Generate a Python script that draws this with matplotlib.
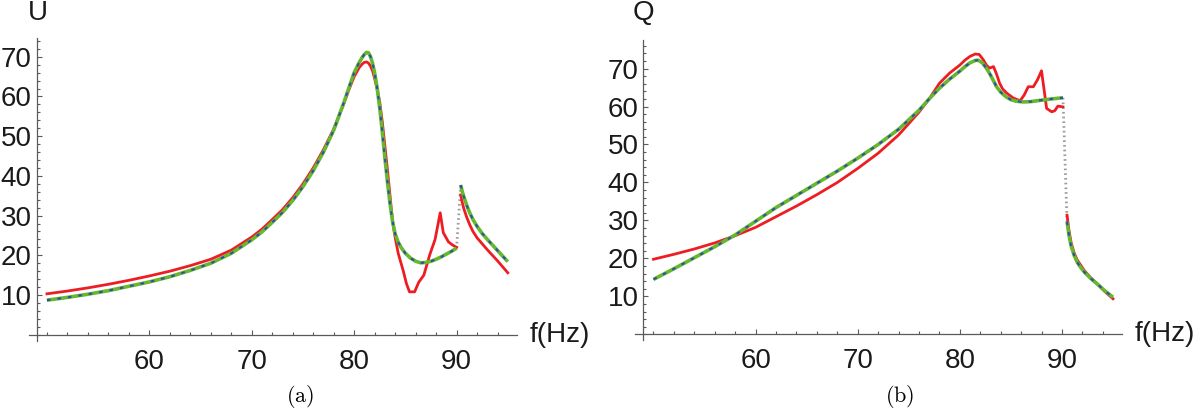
import matplotlib
matplotlib.use("Agg")
import matplotlib.pyplot as plt
from matplotlib.ticker import MultipleLocator

# panel (a): U versus f, model (green / blue dashed) and measured (red)
u_model_f1 = [50, 52, 54, 56, 58, 60, 62, 64, 66, 68, 70, 71, 72, 73, 74, 75, 76, 77, 78, 79,
              79.5, 80, 80.5, 80.8, 81.0, 81.2, 81.4, 81.6, 81.8, 82.0, 82.25, 82.5, 82.75, 83.0,
              83.25, 83.5, 83.75, 84.0, 84.3, 84.6, 85.0, 85.5, 86.0, 86.5, 87.0, 87.5, 88.0,
              88.5, 89.0, 89.5, 90.0]
u_model_v1 = [8.7, 9.4, 10.2, 11.1, 12.2, 13.3, 14.6, 16.2, 18.0, 20.5, 23.9, 25.9, 28.3, 30.8,
              33.8, 37.3, 41.3, 46.0, 51.5, 58.5, 62.3, 66.0, 68.6, 69.9, 70.6, 71.1, 71.0, 70.0,
              68.3, 65.9, 62.0, 57.0, 51.0, 44.5, 38.5, 33.0, 28.5, 25.4, 23.3, 21.9, 20.5, 19.3,
              18.5, 18.1, 18.2, 18.5, 19.0, 19.6, 20.3, 21.0, 21.8]
u_model_f2 = [90.4, 90.55, 90.7, 91.0, 91.3, 91.6, 92.0, 92.5, 93.0, 93.5, 94.0, 94.5, 95.0]
u_model_v2 = [37.7, 36.1, 34.8, 32.5, 30.6, 29.0, 27.3, 25.5, 24.0, 22.6, 21.2, 19.8, 18.4]

u_meas_f1 = [50, 52, 54, 56, 58, 60, 62, 64, 66, 68, 70, 71, 72, 73, 74, 75, 76, 77, 78, 79,
             79.5, 80, 80.5, 80.8, 81.0, 81.2, 81.4, 81.6, 81.8, 82.0, 82.25, 82.5, 82.75, 83.0,
             83.25, 83.5, 83.75, 84.0, 84.3, 84.6, 84.8, 85.1, 85.4, 85.9, 86.3, 86.8, 87.4,
             87.9, 88.4, 88.7, 89.2, 89.6, 90.0]
u_meas_v1 = [10.3, 11.0, 11.8, 12.7, 13.7, 14.8, 16.0, 17.4, 19.0, 21.3, 24.6, 26.6, 29.0, 31.5,
             34.5, 38.0, 42.0, 46.6, 51.8, 58.3, 61.8, 65.0, 67.3, 68.2, 68.6, 68.7, 68.4, 67.6,
             66.4, 64.5, 61.8, 58.5, 53.5, 47.5, 41.5, 35.0, 28.5, 24.5, 20.5, 17.8, 16.0, 12.9,
             10.8, 10.8, 13.2, 15.0, 20.3, 24.0, 30.7, 25.7, 23.4, 22.6, 22.0]
u_meas_f2 = [90.4, 90.55, 90.7, 91.0, 91.3, 91.6, 92.0, 92.5, 93.0, 93.5, 94.0, 94.5, 95.0]
u_meas_v2 = [35.2, 33.3, 31.8, 29.5, 27.6, 26.0, 24.4, 22.9, 21.4, 20.0, 18.6, 17.1, 15.6]

# panel (b): Q versus f
q_model_f1 = [50, 52, 54, 56, 58, 60, 62, 64, 66, 68, 70, 72, 74, 76, 77, 78, 79, 80, 80.5, 81,
              81.5, 81.8, 82.2, 82.6, 83.0, 83.6, 84.0, 84.5, 85.0, 85.5, 86.2, 87.0, 87.8, 89.0,
              90.1]
q_model_v1 = [14.5, 17.3, 20.2, 23.1, 26.2, 29.8, 33.4, 36.6, 39.8, 43.0, 46.4, 50.0, 54.0, 59.0,
              62.0, 64.8, 67.2, 69.3, 70.5, 71.5, 72.1, 72.2, 71.5, 70.1, 68.3, 65.2, 63.8, 62.6,
              61.8, 61.4, 61.2, 61.3, 61.6, 62.0, 62.3]
q_model_f2 = [90.5, 90.7, 90.9, 91.2, 91.5, 91.8, 92.2, 92.8, 93.5, 94.2, 95.0]
q_model_v2 = [29.7, 26.0, 23.3, 20.8, 19.0, 17.8, 16.4, 14.8, 13.2, 11.5, 9.8]

q_meas_f1 = [50, 52, 54, 56, 58, 60, 62, 64, 66, 68, 70, 72, 74, 76, 77, 78, 79, 80, 80.5, 81,
             81.5, 81.9, 82.3, 82.6, 82.9, 83.3, 83.6, 83.9, 84.2, 84.6, 85.2, 85.9, 86.3, 86.7,
             87.2, 87.6, 88.0, 88.5, 89.0, 89.3, 89.6, 90.1]
q_meas_v1 = [19.8, 21.1, 22.5, 24.1, 26.0, 28.2, 31.0, 33.8, 36.8, 40.0, 43.7, 47.7, 52.5, 58.5,
             62.0, 66.1, 68.8, 70.9, 72.2, 73.2, 73.8, 73.7, 72.3, 70.9, 70.1, 70.5, 68.5, 66.1,
             64.6, 63.5, 62.3, 61.5, 63.0, 65.2, 65.2, 67.0, 69.4, 59.5, 58.6, 58.9, 60.1, 59.9]
q_meas_f2 = [90.5, 90.7, 90.9, 91.2, 91.5, 91.8, 92.2, 92.8, 93.5, 94.2, 95.0]
q_meas_v2 = [31.4, 27.2, 24.2, 21.4, 19.6, 18.4, 16.8, 15.0, 13.2, 11.3, 9.4]

x_major = [60, 70, 80, 90]
y_major = [10, 20, 30, 40, 50, 60, 70]

RED = "#ee1d23"
GREEN = "#66b82f"
BLUE = "#2f4fa8"
GREY = "#a39a9a"
AXC = "#5a5a5a"

plt.rcParams["font.family"] = ["Liberation Sans", "DejaVu Sans"]
plt.rcParams["mathtext.fontset"] = "cm"
plt.rcParams["lines.scale_dashes"] = False

fig = plt.figure(figsize=(12, 4.12), dpi=100)
axa = fig.add_axes([0.02375, 0.1731, 0.4071, 0.7335])
axb = fig.add_axes([0.52925, 0.1743, 0.4059, 0.7286])


def draw(ax, mf1, mv1, mf2, mv2, ef1, ev1, ef2, ev2, ytop):
    # dotted jump of the model curve
    ax.plot([mf1[-1], mf2[0]], [mv1[-1], mv2[0]], color=GREY, lw=2, ls=(0, (1.2, 2.2)),
            zorder=1)
    for f, v in [(ef1, ev1), (ef2, ev2)]:
        ax.plot(f, v, color=RED, lw=2.0, zorder=2, solid_joinstyle="round")
    for f, v in [(mf1, mv1), (mf2, mv2)]:
        ax.plot(f, v, color=GREEN, lw=2.6, zorder=3, solid_capstyle="butt")
        ax.plot(f, v, color=BLUE, lw=1.5, ls=(0, (2.6, 5.0)), zorder=4)

    ax.set_xlim(48.2, 95.9)
    ax.set_ylim(-1.5, ytop)
    for s in ["top", "right"]:
        ax.spines[s].set_visible(False)
    ax.spines["left"].set_position(("data", 49))
    ax.spines["bottom"].set_position(("data", 0))
    for s in ["left", "bottom"]:
        ax.spines[s].set_color(AXC)
        ax.spines[s].set_linewidth(0.9)
    ax.set_xticks(x_major)
    ax.set_yticks(y_major)
    ax.set_xticks(list(range(50, 95, 2)), minor=True)
    ax.yaxis.set_minor_locator(MultipleLocator(2))
    ax.tick_params(which="both", direction="in", color=AXC, width=0.8)
    ax.tick_params(which="major", length=3.4, labelsize=20, labelcolor="#1a1a1a")
    ax.tick_params(which="minor", length=1.9)
    ax.tick_params(axis="x", which="major", pad=10)
    ax.tick_params(axis="y", which="major", pad=3.5)
    ax.annotate("f(Hz)", xy=(1, 0), xycoords=("axes fraction", "data"), xytext=(9, 0),
                textcoords="offset points", ha="left", va="center", fontsize=20,
                color="#1a1a1a", annotation_clip=False)


draw(axa, u_model_f1, u_model_v1, u_model_f2, u_model_v2,
     u_meas_f1, u_meas_v1, u_meas_f2, u_meas_v2, 74.6)
draw(axb, q_model_f1, q_model_v1, q_model_f2, q_model_v2,
     q_meas_f1, q_meas_v1, q_meas_f2, q_meas_v2, 77.5)

fig.text(38 / 1200, 1 - 13 / 412, "U", ha="center", va="center", fontsize=20, color="#1a1a1a")
fig.text(643 / 1200, 1 - 13 / 412, "Q", ha="center", va="center", fontsize=20, color="#1a1a1a")
fig.text(0.25, 1 - 396 / 412, r"$\mathrm{(a)}$", ha="center", va="center", fontsize=16)
fig.text(0.75, 1 - 396 / 412, r"$\mathrm{(b)}$", ha="center", va="center", fontsize=16)

fig.savefig("out.png", dpi=100)
